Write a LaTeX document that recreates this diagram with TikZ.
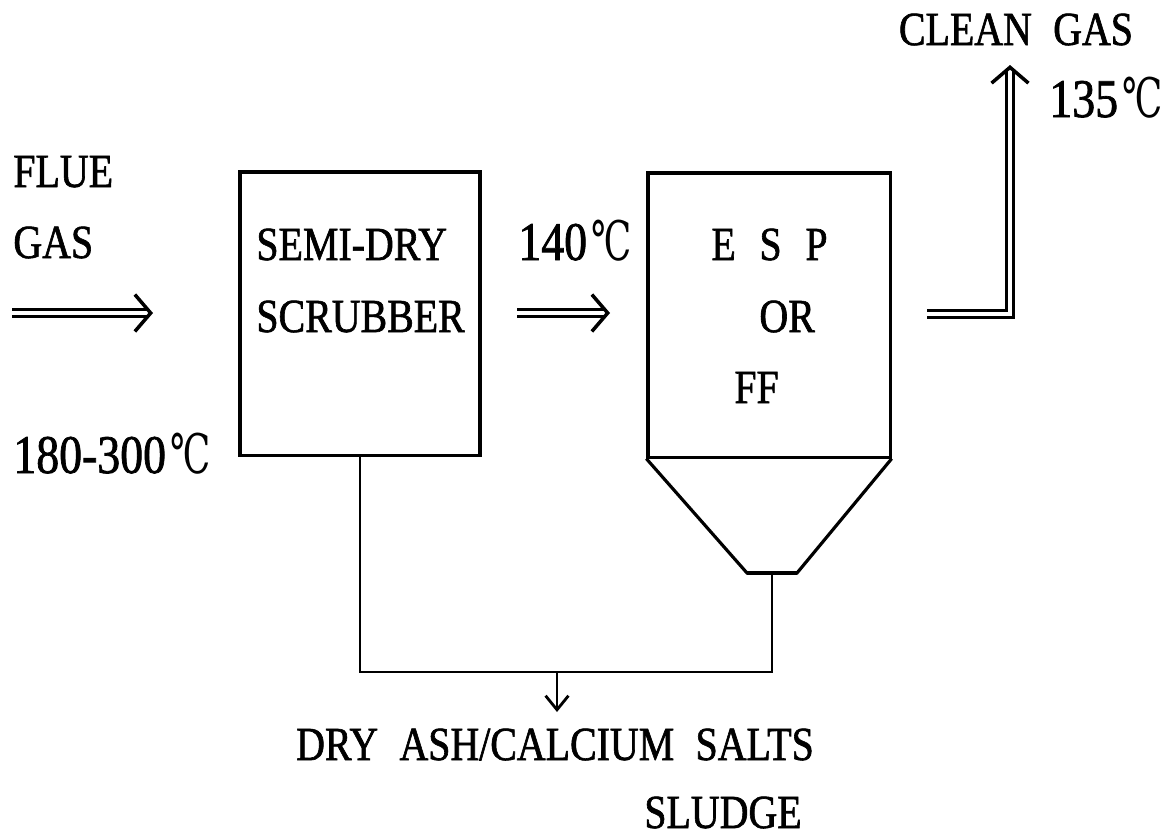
\documentclass[tikz,border=0pt]{standalone}
\usepackage{fontspec}
\setmainfont{Liberation Serif}[FakeStretch=0.84, FakeBold=1.3]
\newfontfamily\degfont{DejaVu Serif}[FakeStretch=0.66]
\newcommand{\degc}{\hspace{0.08em}{\degfont ℃}}
\newcommand{\widegaps}{\spaceskip=0.45em\relax}
\usetikzlibrary{arrows.meta, positioning, calc}

\begin{document}
\begin{tikzpicture}[x=0.01cm, y=-0.01cm, line width=0.8pt,
    unit/.style={draw, line width=0.9pt, inner sep=0pt},
    lbl/.style={font={\fontsize{13.5}{16}\selectfont\widegaps}, inner sep=0pt},
    temp/.style={font=\fontsize{15.5}{18}\selectfont, inner sep=0pt},
    gasflow/.style={double, double distance=1.4pt, line width=0.8pt,
        -{Straight Barb[length=4.5pt, width=10.5pt, line width=1pt]}},
    dropflow/.style={-{Straight Barb[length=4pt, width=6.5pt]}}]
    \useasboundingbox (0,0) rectangle (1173,836);

    \node[unit, minimum width=2.4cm, minimum height=2.83cm] (scrubber) at (360,313.5) {};
    \node[unit, minimum width=2.42cm, minimum height=2.84cm] (esp) at (769,315) {};
    \coordinate (hopleft) at (747,573);
    \coordinate (hopright) at (797,573);
    \coordinate (hopout) at (772,573);
    \draw[line width=0.9pt] (esp.south west) -- (hopleft) -- (hopright) -- (esp.south east);
    \draw[line width=1.3pt] (hopleft) -- (hopright);

    \node[lbl, anchor=base west] (flue) at (12,187) {FLUE};
    \node[lbl, anchor=base west] (fluegas) at (12,258) {GAS};
    \node[temp, anchor=base west] (tin) at (12,473) {180-300\degc};
    \node[lbl, anchor=base west] (semidry) at (255,260) {SEMI-DRY};
    \node[lbl, anchor=base west] (scrub) at (255,332) {SCRUBBER};
    \node[temp, anchor=base west] (tmid) at (517,260) {140\degc};
    \node[lbl, anchor=base west] (esptxt) at (710,260) {E\hspace{0.5em}S\hspace{0.5em}P};
    \node[lbl, anchor=base west] (ortxt) at (758,332) {OR};
    \node[lbl, anchor=base west] (fftxt) at (733,403) {FF};
    \node[lbl, anchor=base] (clean) at (1016,45) {CLEAN GAS};
    \node[temp, anchor=base west] (tout) at (1048,117) {135\degc};
    \node[lbl, anchor=base] (ash) at (555,760) {DRY ASH/CALCIUM SALTS};
    \node[lbl, anchor=base] (sludge) at (723,828) {SLUDGE};

    \coordinate (fluestart) at (12,313);
    \coordinate (fluetip) at (153,313);
    \coordinate (midstart) at (517,313);
    \coordinate (midtip) at (610,313);
    \coordinate (outstart) at (927,314);
    \coordinate (stacktop) at (1010,65);
    \draw[gasflow] (fluestart) -- (fluetip);
    \draw[gasflow] (midstart) -- (midtip);
    \draw[gasflow] (outstart) -| (stacktop);

    \coordinate (join) at (772,672);
    \coordinate (drop) at (557,672);
    \coordinate (droptip) at (557,712);
    \draw (scrubber.south) |- (join) -- (hopout);
    \draw[dropflow] (drop) -- (droptip);
\end{tikzpicture}
\end{document}
